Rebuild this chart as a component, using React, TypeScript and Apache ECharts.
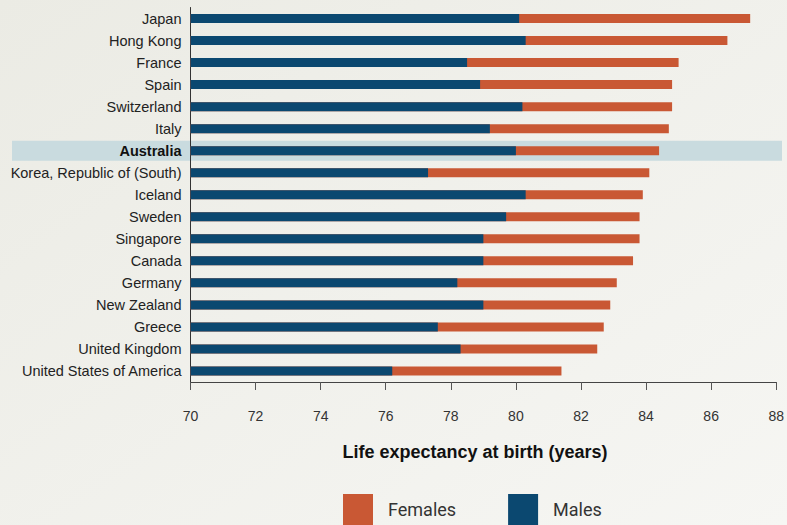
import React, { useEffect, useRef } from "react";
import * as echarts from "echarts";

const countries = [
  "Japan", "Hong Kong", "France", "Spain", "Switzerland", "Italy", "Australia",
  "Korea, Republic of (South)", "Iceland", "Sweden", "Singapore", "Canada",
  "Germany", "New Zealand", "Greece", "United Kingdom", "United States of America",
];
const males = [80.1, 80.3, 78.5, 78.9, 80.2, 79.2, 80.0, 77.3, 80.3, 79.7, 79.0, 79.0, 78.2, 79.0, 77.6, 78.3, 76.2];
const females = [87.2, 86.5, 85.0, 84.8, 84.8, 84.7, 84.4, 84.1, 83.9, 83.8, 83.8, 83.6, 83.1, 82.9, 82.7, 82.5, 81.4];
const highlighted = "Australia";
const axisTitle = "Life expectancy at birth (years)";

const BLUE = "#0b4870";
const ORANGE = "#c95834";
const FONT = "'Liberation Sans', Arial, sans-serif";
const LEGEND_FONT = "Roboto, 'Liberation Sans', sans-serif";

export default function App() {
  const ref = useRef<HTMLDivElement>(null);
  useEffect(() => {
    if (!ref.current) return;
    const chart = echarts.init(ref.current, undefined, { renderer: "svg" });
    chart.setOption({
      animation: false,
      backgroundColor: new echarts.graphic.LinearGradient(0, 0, 1, 1, [
        { offset: 0, color: "#ebebe4" },
        { offset: 1, color: "#f6f6f3" },
      ]),
      textStyle: { fontFamily: FONT },
      grid: { left: 190.5, right: 8, top: 7.5, bottom: 143 },
      legend: {
        left: 343,
        top: 494,
        padding: 0,
        itemWidth: 30,
        itemHeight: 31,
        itemGap: 52,
        icon: "rect",
        selectedMode: false,
        textStyle: { fontSize: 18, color: "#333", padding: [0, 0, 0, 10], fontFamily: LEGEND_FONT },
        data: ["Females", "Males"],
      },
      xAxis: {
        type: "value",
        min: 70,
        max: 88,
        interval: 2,
        splitLine: { show: false },
        axisLine: { show: true, lineStyle: { color: "#444", width: 1 } },
        axisTick: { show: true, length: 8, lineStyle: { color: "#555" } },
        axisLabel: { margin: 27, fontSize: 14, color: "#333", fontFamily: FONT },
      },
      yAxis: {
        type: "category",
        data: countries,
        inverse: true,
        axisLine: { show: true, lineStyle: { color: "#333", width: 1 } },
        axisTick: { show: false },
        axisLabel: {
          margin: 9,
          fontSize: 14.5,
          color: "#222",
          fontFamily: FONT,
          formatter: (v: string) => (v === highlighted ? `{b|${v}}` : v),
          rich: { b: { fontWeight: "bold", fontSize: 14.5, color: "#111", fontFamily: FONT } },
        },
      },
      series: [
        {
          name: "Females",
          type: "bar",
          data: females,
          barWidth: 9,
          barGap: "-100%",
          itemStyle: { color: ORANGE },
          z: 2,
        },
        {
          name: "Males",
          type: "bar",
          data: males,
          barWidth: 9,
          barGap: "-100%",
          itemStyle: { color: BLUE },
          z: 3,
        },
      ],
    });
    const yc = chart.convertToPixel({ yAxisIndex: 0 }, highlighted) as number;
    chart.setOption({
      graphic: [
        {
          type: "rect",
          z: -1,
          zlevel: 0,
          silent: true,
          shape: { x: 12, y: yc - 10, width: 770, height: 20 },
          style: { fill: "#c9dbdf" },
        },
        {
          type: "text",
          x: 475,
          y: 452,
          style: {
            text: axisTitle,
            fontSize: 18,
            fontWeight: "bold",
            fill: "#111",
            fontFamily: FONT,
            textAlign: "center",
            textVerticalAlign: "middle",
          },
        },
      ],
    });
    return () => chart.dispose();
  }, []);
  return (
    <div
      ref={ref}
      style={{ position: "absolute", left: 0, top: 0, width: 787, height: 525 }}
    />
  );
}
